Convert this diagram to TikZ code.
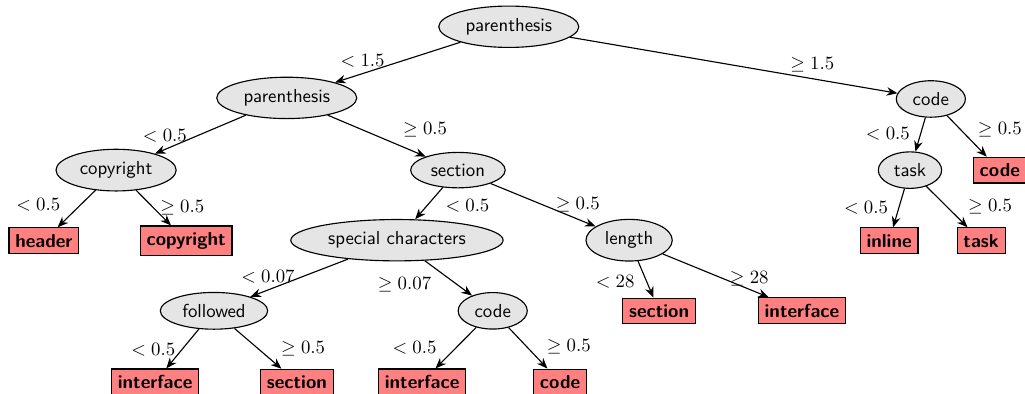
\documentclass[tikz,border=0pt]{standalone}
\usepackage{tikz}
\usetikzlibrary{shapes, arrows.meta, positioning}

\begin{document}
\begin{tikzpicture}[
  semithick,
  split/.style={ellipse, draw, fill=gray!20, font=\sffamily},
  leaf/.style={rectangle, draw, fill=red!50, font=\sffamily\bfseries},
  edge/.style={-{Stealth[length=2mm,width=1.6mm]}}
]
\useasboundingbox (0,0) rectangle (19.16,-7.36);

% inner nodes
\node[split] (paren) at (9.51,-0.50) {parenthesis};
\node[split] (parenB) at (5.36,-1.83) {parenthesis};
\node[split] (codeA) at (17.40,-1.85) {code};
\node[split] (copy) at (2.17,-3.18) {copyright};
\node[split] (sect) at (8.56,-3.18) {section};
\node[split] (taskA) at (17.01,-3.18) {task};
\node[split] (special) at (7.42,-4.49) {special characters};
\node[split] (len) at (11.76,-4.49) {length};
\node[split] (followed) at (4.00,-5.81) {followed};
\node[split] (codeB) at (9.21,-5.81) {code};

% leaves
\node[leaf] (codeLeafA) at (18.69,-3.18) {code};
\node[leaf] (header) at (0.82,-4.50) {header};
\node[leaf] (copyLeaf) at (3.48,-4.50) {copyright};
\node[leaf] (inline) at (16.62,-4.50) {inline};
\node[leaf] (taskLeaf) at (18.34,-4.50) {task};
\node[leaf] (sectLeafA) at (12.32,-5.81) {section};
\node[leaf] (ifaceA) at (14.99,-5.81) {interface};
\node[leaf] (ifaceB) at (2.90,-7.14) {interface};
\node[leaf] (sectLeafB) at (5.55,-7.14) {section};
\node[leaf] (ifaceC) at (7.89,-7.14) {interface};
\node[leaf] (codeLeafB) at (10.47,-7.14) {code};

% splits
\draw[edge] (paren) -- node[pos=0.78, above] {$<1.5$} (parenB);
\draw[edge] (paren) -- node[pos=0.74, above] {$\geq 1.5$} (codeA);
\draw[edge] (parenB) -- node[pos=0.89, above] {$<0.5$} (copy);
\draw[edge] (parenB) -- node[pos=0.7, above right] {$\geq 0.5$} (sect);
\draw[edge] (codeA) -- node[pos=0.88, above left] {$<0.5$} (taskA);
\draw[edge] (codeA) -- node[pos=0.7, above right, xshift=-2pt] {$\geq 0.5$} (codeLeafA);
\draw[edge] (copy) -- node[pos=0.75, above left] {$<0.5$} (header);
\draw[edge] (copy) -- node[midway, right] {$\geq 0.5$} (copyLeaf);
\draw[edge] (sect) -- node[pos=0.15, below right] {$<0.5$} (special);
\draw[edge] (sect) -- node[pos=0.83, above] {$\geq 0.5$} (len);
\draw[edge] (taskA) -- node[pos=0.85, above left] {$<0.5$} (inline);
\draw[edge] (taskA) -- node[pos=0.85, above right] {$\geq 0.5$} (taskLeaf);
\draw[edge] (special) -- node[pos=0.82, above] {$<0.07$} (followed);
\draw[edge] (special) -- node[pos=0.28, below left] {$\geq 0.07$} (codeB);
\draw[edge] (len) -- node[pos=0.21, below left] {$<28$} (sectLeafA);
\draw[edge] (len) -- node[pos=0.57, right] {$\geq 28$} (ifaceA);
\draw[edge] (followed) -- node[pos=0.52, left] {$<0.5$} (ifaceB);
\draw[edge] (followed) -- node[pos=0.85, above right] {$\geq 0.5$} (sectLeafB);
\draw[edge] (codeB) -- node[pos=0.81, above left] {$<0.5$} (ifaceC);
\draw[edge] (codeB) -- node[pos=0.81, above right] {$\geq 0.5$} (codeLeafB);
\end{tikzpicture}
\end{document}
